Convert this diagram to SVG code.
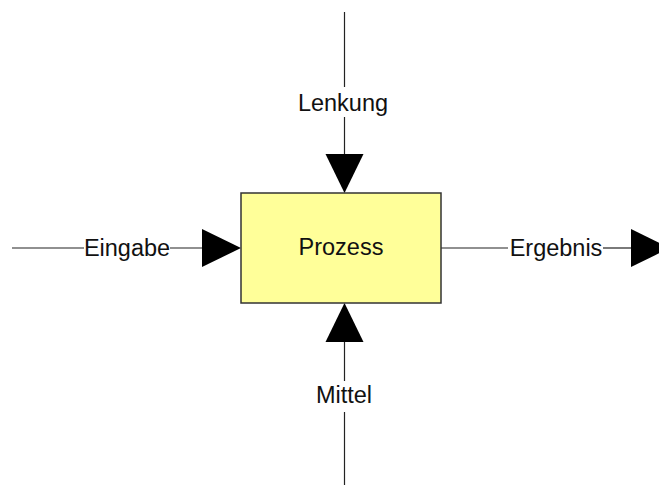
<svg xmlns="http://www.w3.org/2000/svg" width="659" height="486" viewBox="0 0 659 486">
<style>
.ln{stroke:#222;stroke-width:1.2;fill:none}
.ah{fill:#000}
.lbl{font-family:"Liberation Sans",Arial,sans-serif;font-size:23.5px;fill:#111;text-anchor:middle}
</style>
<rect width="659" height="486" fill="#fff"/>
<g id="connectors">
<g id="eingabe">
<line class="ln" x1="12" y1="248" x2="84" y2="248"/>
<line class="ln" x1="170" y1="248" x2="203" y2="248"/>
<polygon class="ah" points="202,229 241,248 202,267"/>
<text class="lbl" x="127" y="256">Eingabe</text>
</g>
<g id="ergebnis">
<line class="ln" x1="441" y1="248" x2="508" y2="248"/>
<line class="ln" x1="603" y1="248" x2="632" y2="248"/>
<polygon class="ah" points="631,229 670,248 631,267"/>
<text class="lbl" x="556" y="256">Ergebnis</text>
</g>
<g id="lenkung">
<line class="ln" x1="344.5" y1="12" x2="344.5" y2="87"/>
<line class="ln" x1="344.5" y1="117" x2="344.5" y2="155"/>
<polygon class="ah" points="325.5,154 363.5,154 344.5,193"/>
<text class="lbl" x="343" y="111">Lenkung</text>
</g>
<g id="mittel">
<line class="ln" x1="344.5" y1="341" x2="344.5" y2="381"/>
<line class="ln" x1="344.5" y1="412" x2="344.5" y2="485"/>
<polygon class="ah" points="325.5,342 363.5,342 344.5,303"/>
<text class="lbl" x="344" y="403">Mittel</text>
</g>
</g>
<g id="prozess">
<rect x="241" y="193" width="200" height="110" fill="#ffff99" stroke="#333" stroke-width="1.5"/>
<text class="lbl" x="341" y="255">Prozess</text>
</g>
</svg>
